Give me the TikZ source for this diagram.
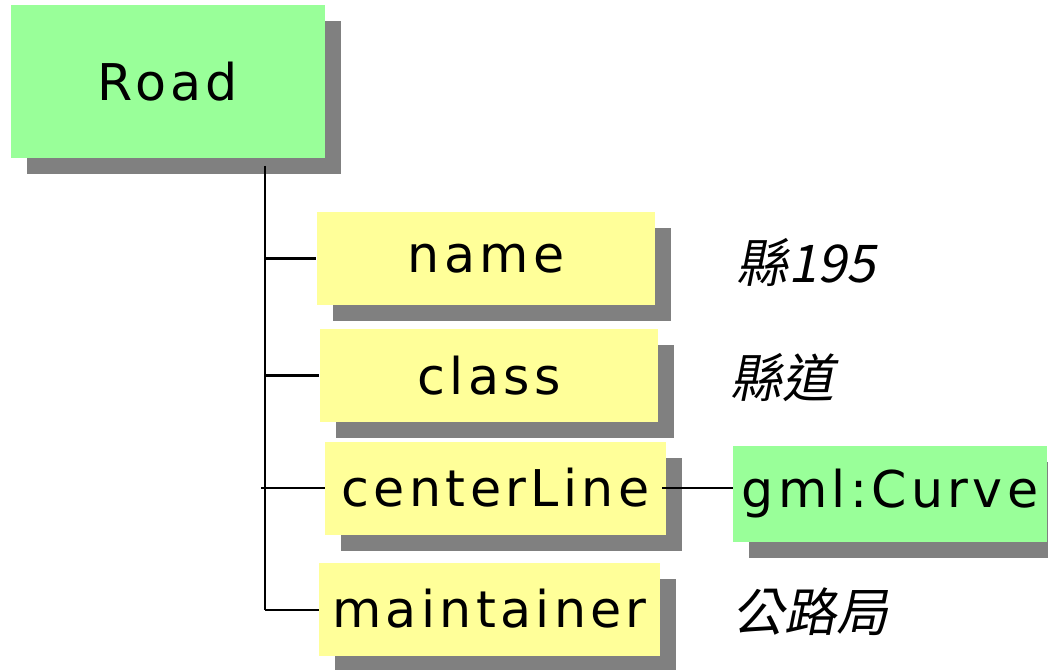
\documentclass[tikz,border=0pt]{standalone}
\usepackage{fontspec}
\setmainfont{DejaVu Sans}[LetterSpace=8.5]
\newfontfamily\cjk{Noto Sans CJK TC}[FakeSlant=0.2]
\usepackage{tikz}
\usetikzlibrary{shadows}
\definecolor{clsgreen}{HTML}{99FF99}
\definecolor{propyellow}{HTML}{FFFF99}
\definecolor{shade}{HTML}{808080}
\tikzstyle{box} = [draw=none, inner sep=0, font=\fontsize{38}{40}\selectfont,
  drop shadow={shadow xshift=12pt, shadow yshift=-12pt, fill=shade, opacity=1}]
\tikzstyle{cls} = [box, fill=clsgreen]
\tikzstyle{prop} = [box, fill=propyellow, minimum width=254pt, minimum height=69.75pt]
\tikzstyle{val} = [draw=none, inner sep=0, font=\cjk\fontsize{39}{41}\selectfont]
\tikzstyle{link} = [-, line width=2pt, draw=black]

\begin{document}
\begin{tikzpicture}[x=0.75pt, y=-0.75pt]
\useasboundingbox (0,0) rectangle (1048,670);
\node [cls, minimum width=235.5pt, minimum height=114.75pt] (road) at (168, 81.5) {Road};
\node [prop] (name) at (486, 258.5) {name};
\node [prop] (class) at (489, 375.5) {class};
\node [prop, minimum width=255.75pt] (center) at (495.5, 488) {centerLine};
\node [prop, minimum width=255.75pt] (maint) at (489.5, 609) {maintainer};
\node [cls, minimum width=235.5pt, minimum height=72pt] (curve) at (890, 493.5) {gml:Curve};
\node [val] (v1) at (806, 262) {縣195};
\node [val] (v2) at (782, 378) {縣道};
\node [val] (v3) at (810, 612) {公路局};
\coordinate (top) at (265, 166);
\coordinate (bot) at (265, 610);
\draw [link] (top) to (bot);
\draw [link] (name.west -| bot) to (name.west);
\draw [link] (class.west -| bot) to (class.west);
\draw [link] ([xshift=-3pt] center.west -| bot) to (center.west);
\draw [link] (bot) to (bot -| maint.west);
\draw [link] ([xshift=-3pt] center.east) to (center.east -| curve.west);
\end{tikzpicture}
\end{document}
